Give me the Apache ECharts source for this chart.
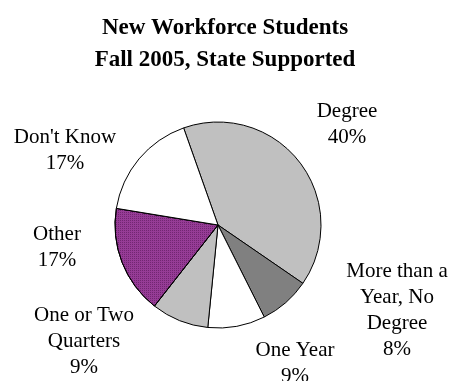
<!DOCTYPE html>
<html>
<head>
<meta charset="utf-8">
<script src="https://cdn.jsdelivr.net/npm/echarts@6/dist/echarts.min.js"></script>
<style>
  html, body { margin: 0; padding: 0; background: #ffffff; }
  #chart { width: 450px; height: 381px; }
</style>
</head>
<body>
<div id="chart"></div>
<script>
// Students by outcome category, share of total (%)
const categories = [
  'Degree',
  'More than a\nYear, No\nDegree',
  'One Year',
  'One or Two\nQuarters',
  'Other',
  "Don't Know"
];
const shares = [40, 8, 9, 9, 17, 17];
const sliceColors = ['#c0c0c0', '#808080', '#ffffff', '#c0c0c0', '#963c96', '#ffffff'];

// Label anchors (px), one per slice, in the same order
const labelAnchors = [
  [347, 124],
  [397, 310],
  [295, 363],
  [84, 341],
  [57, 247],
  [65, 150]
];

const serif = "'Liberation Serif', 'Times New Roman', 'DejaVu Serif', serif";

const chart = echarts.init(document.getElementById('chart'), null, { renderer: 'canvas' });

const data = categories.map((name, i) => {
  const item = {
    name: name,
    value: shares[i],
    itemStyle: { color: sliceColors[i] }
  };
  if (name === 'Other') {
    item.itemStyle.decal = {
      symbol: 'rect',
      symbolSize: 1,
      dashArrayX: [1, 1],
      dashArrayY: [1, 1],
      color: 'rgba(70, 10, 70, 0.45)'
    };
  }
  return item;
});

chart.setOption({
  animation: false,
  backgroundColor: '#ffffff',
  title: {
    text: 'New Workforce Students\nFall 2005, State Supported',
    left: 'center',
    top: 7,
    textStyle: {
      fontFamily: serif,
      fontWeight: 'bold',
      fontSize: 23,
      lineHeight: 32,
      color: '#000000'
    }
  },
  series: [{
    type: 'pie',
    center: [218, 225],
    radius: 103,
    startAngle: 109.5,
    clockwise: true,
    avoidLabelOverlap: false,
    emphasis: { disabled: true },
    itemStyle: { borderColor: '#000000', borderWidth: 1 },
    label: {
      show: true,
      position: 'outside',
      formatter: '{b}\n{c}%',
      fontFamily: serif,
      fontSize: 21,
      lineHeight: 26,
      color: '#000000'
    },
    labelLine: { show: false },
    labelLayout: function (params) {
      const p = labelAnchors[params.dataIndex];
      return { x: p[0], y: p[1], align: 'center', verticalAlign: 'middle' };
    },
    data: data
  }]
});
</script>
</body>
</html>
